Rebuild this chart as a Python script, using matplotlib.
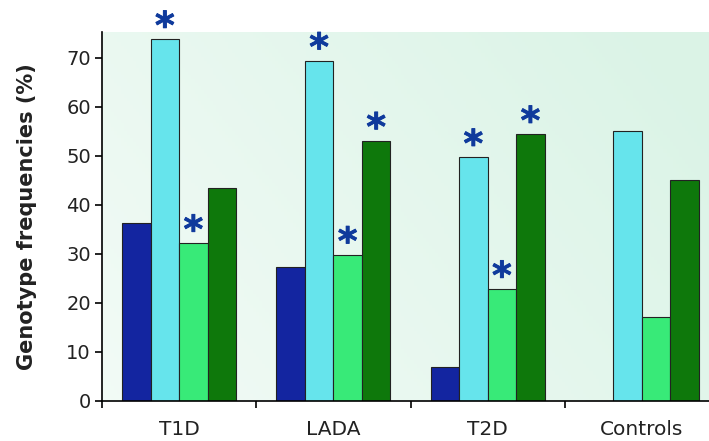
import numpy as np
import matplotlib
matplotlib.use("Agg")
import matplotlib.pyplot as plt
import matplotlib.patheffects as pe

# data
groups = ["T1D", "LADA", "T2D", "Controls"]
series_a = [36.4, 27.3, 7.0, 0.0]     # dark blue
series_b = [73.8, 69.4, 49.7, 55.0]   # cyan
series_c = [32.2, 29.8, 22.8, 17.2]   # light green
series_d = [43.4, 53.1, 54.4, 45.0]   # dark green
# which bars carry a significance asterisk
star_a = [False, False, False, False]
star_b = [True, True, True, False]
star_c = [True, True, True, False]
star_d = [False, True, True, False]

colors = ["#1325a0", "#66e4ec", "#38ea78", "#0e780b"]
star_color = "#0f3a9c"

fig = plt.figure(figsize=(7.09, 4.41), dpi=100)
W, H = 709, 441
ax = fig.add_axes([102 / W, 40 / H, (719 - 102) / W, (401 - 32) / H])

# soft green gradient background
gx = np.linspace(0, 1, 200)
gy = np.linspace(0, 1, 100)
GX, GY = np.meshgrid(gx, gy)
t = np.clip(0.75 * GX + 0.35 * (1 - GY), 0, 1)
c0 = np.array([0.95, 0.985, 0.965])
c1 = np.array([0.86, 0.955, 0.905])
img = c0[None, None, :] * (1 - t[..., None]) + c1[None, None, :] * t[..., None]
ax.imshow(img, extent=[-0.5, 3.5, 0, 75.3], aspect="auto", origin="upper", zorder=0)

x = np.arange(len(groups))
w = 0.185
all_series = [series_a, series_b, series_c, series_d]
all_stars = [star_a, star_b, star_c, star_d]
for i, (vals, stars) in enumerate(zip(all_series, all_stars)):
    pos = x + (i - 1.5) * w
    bars = ax.bar(pos, vals, w, color=colors[i], edgecolor="#222222",
                  linewidth=0.8, zorder=2)
    for b, v, s in zip(bars, vals, stars):
        if v > 0 and s:
            ax.annotate("*", (b.get_x() + b.get_width() / 2, v),
                        xytext=(0, -5), textcoords="offset points",
                        ha="center", va="bottom", fontsize=27,
                        fontweight="bold", color=star_color, zorder=3,
                        path_effects=[pe.withStroke(linewidth=0.6, foreground=star_color)])

ax.set_xlim(-0.5, 3.5)
ax.set_ylim(0, 75.3)
ax.set_yticks(range(0, 71, 10))
ax.tick_params(axis="y", labelsize=14, length=5, width=1.2, direction="out",
               pad=3, labelcolor="#222222")
ax.set_xticks(x)
ax.set_xticklabels(groups, fontsize=14.5, color="#222222")
ax.set_xticks(np.arange(-0.5, 3.6, 1), minor=True)
ax.tick_params(axis="x", which="major", length=0, pad=14)
ax.tick_params(axis="x", which="minor", length=5, width=1.2, direction="out")
ax.spines["top"].set_visible(False)
ax.spines["right"].set_visible(False)
ax.spines["left"].set_linewidth(1.2)
ax.spines["bottom"].set_linewidth(1.2)
ax.set_ylabel("Genotype frequencies (%)", fontsize=15, fontweight="bold",
              labelpad=21, color="#222222")

fig.savefig("out.png", dpi=100, facecolor="white")
